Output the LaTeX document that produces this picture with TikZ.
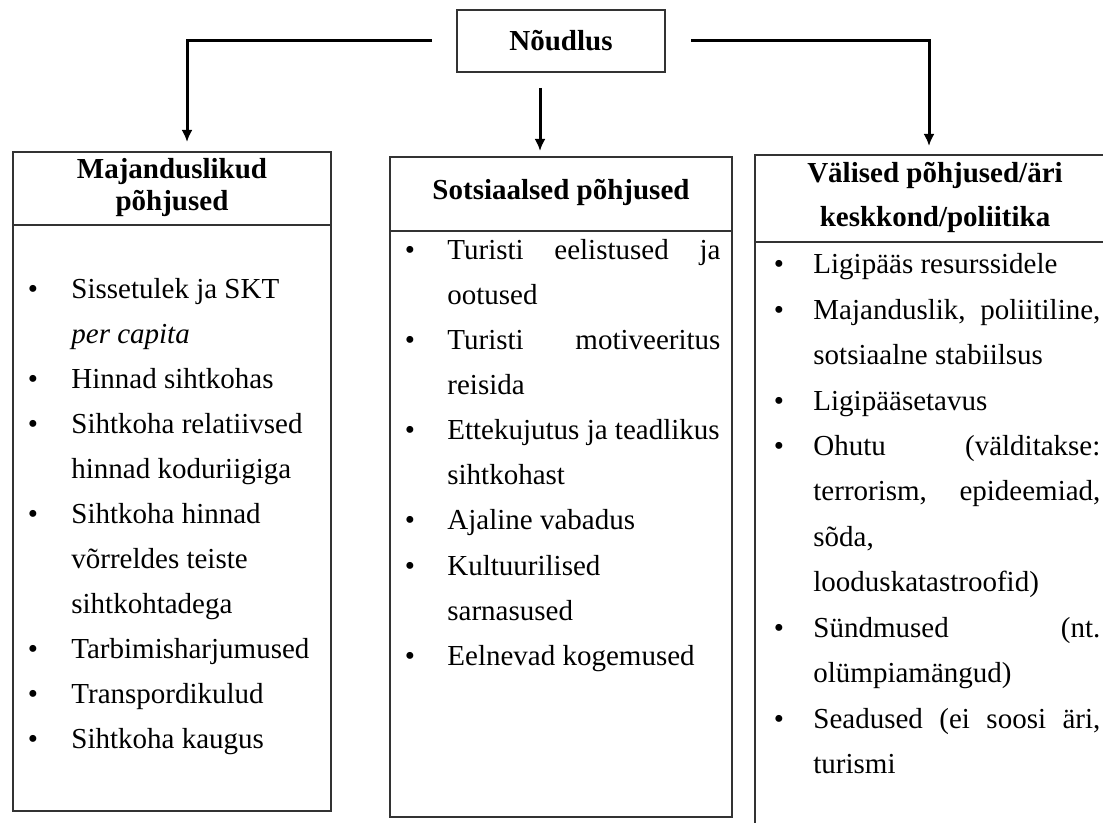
\documentclass[tikz,border=0pt]{standalone}
\usepackage{fontspec}
\setmainfont{Liberation Serif}
\usetikzlibrary{positioning,arrows.meta}
\newlength{\linew}
\newcommand{\jl}[1]{\makebox[\linew][s]{#1}}

\begin{document}
\begin{tikzpicture}[x=0.5pt,y=-0.5pt,
		every block/.style={draw=black!80, line width=1pt, inner sep=0pt},
		every head/.style={font=\bfseries\fontsize{14.5}{16}\selectfont, align=center},
		every item/.style={font=\fontsize{14.5}{16}\selectfont, anchor=base west, inner sep=0pt},
		every bullet/.style={font=\fontsize{14.5}{16}\selectfont, anchor=base, inner sep=0pt},
		flow/.style={->, >={Latex[length=6pt,width=5.5pt]}, line width=1.5pt}]
		\useasboundingbox (0,0) rectangle (1103,823);
		% top box
		\node [every block/.try, every head/.try, minimum width=104pt, minimum height=31pt] (demand) at (561,41) {Nõudlus};
		% three columns
		\node [every block/.try, minimum width=159pt, minimum height=329.5pt] (econ) at (172,481.5) {};
		\node [every block/.try, minimum width=171pt, minimum height=330pt] (social) at (561,487) {};
		\node [every block/.try, minimum width=180pt, minimum height=342.5pt] (ext) at (935,497.5) {};
		\draw [line width=0.75pt, draw=black!80] (econ.west |- 0,225) -- (econ.east |- 0,225);
		\draw [line width=0.75pt, draw=black!80] (social.west |- 0,231) -- (social.east |- 0,231);
		\draw [line width=0.75pt, draw=black!80] (ext.west |- 0,242) -- (ext.east |- 0,242);
		\node [every head/.try] (econ-head) at (172,188) {Majanduslikud\\põhjused};
		\node [every head/.try] (social-head) at (561,192) {Sotsiaalsed põhjused};
		\node [every head/.try, font=\bfseries\fontsize{14.5}{22}\selectfont] (ext-head) at (935,197) {Välised põhjused/äri\\keskkond/poliitika};
		% arrows
		\draw [flow] ([xshift=-12pt]demand.west) -| ([xshift=7.5pt,yshift=4.5pt]econ.north);
		\draw [flow] ([xshift=-10.5pt,yshift=-7.5pt]demand.south) -- ([xshift=-10.5pt,yshift=2.5pt]social.north);
		\draw [flow] ([xshift=12.5pt]demand.east) -| ([xshift=-3pt,yshift=4pt]ext.north);
		% lists
		\foreach \t [count=\i from 0] in {Sissetulek ja SKT, \textit{per capita}, Hinnad sihtkohas, Sihtkoha relatiivsed, hinnad koduriigiga, Sihtkoha hinnad, võrreldes teiste, sihtkohtadega, Tarbimisharjumused, Transpordikulud, Sihtkoha kaugus} {
			\node [every item/.try] (econ-\i) at (71,{299+44.9*\i}) {\t};
		}
		\foreach \i in {0,2,3,5,8,9,10} {
			\node [every bullet/.try] (econ-b\i) at (33,{299+44.9*\i}) {\textbullet};
		}
		\setlength{\linew}{136.5pt}
		\foreach \t [count=\i from 0] in {{\jl{Turisti eelistused ja}}, ootused, {\jl{Turisti motiveeritus}}, reisida, Ettekujutus ja teadlikus, sihtkohast, Ajaline vabadus, Kultuurilised, sarnasused, Eelnevad kogemused} {
			\node [every item/.try] (social-\i) at (447,{260+45*\i}) {\t};
		}
		\foreach \i in {0,2,4,6,7,9} {
			\node [every bullet/.try] (social-b\i) at (410,{260+45*\i}) {\textbullet};
		}
		\setlength{\linew}{143.5pt}
		\foreach \t [count=\i from 0] in {Ligipääs resurssidele, {\jl{Majanduslik, poliitiline,}}, sotsiaalne stabiilsus, Ligipääsetavus, {\jl{Ohutu (välditakse:}}, {\jl{terrorism, epideemiad,}}, {sõda,}, looduskatastroofid), {\jl{Sündmused (nt.}}, olümpiamängud), {\jl{Seadused (ei soosi äri,}}, turismi} {
			\node [every item/.try] (ext-\i) at (813,{274+45.4*\i}) {\t};
		}
		\foreach \i in {0,1,3,4,8,10} {
			\node [every bullet/.try] (ext-b\i) at (779,{274+45.4*\i}) {\textbullet};
		}
	\end{tikzpicture}
\end{document}
